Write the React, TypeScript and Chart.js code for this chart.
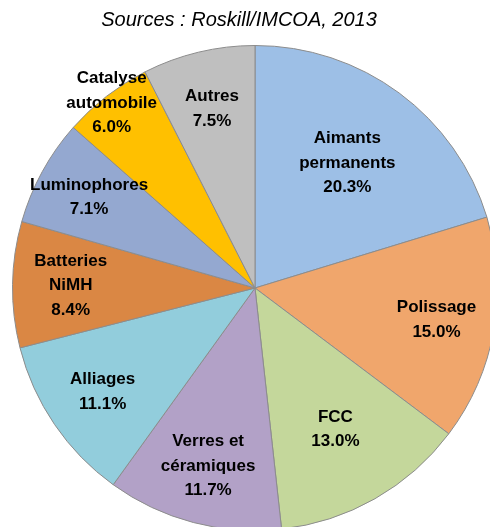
import React, { useEffect, useRef } from "react";
import { Chart, registerables } from "chart.js";

Chart.register(...registerables);

const categories: string[][] = [
  ["Aimants", "permanents"],
  ["Polissage"],
  ["FCC"],
  ["Verres et", "céramiques"],
  ["Alliages"],
  ["Batteries", "NiMH"],
  ["Luminophores"],
  ["Catalyse", "automobile"],
  ["Autres"],
];
const shares: number[] = [20.3, 15.0, 13.0, 11.7, 11.1, 8.4, 7.1, 6.0, 7.5];
const colors: string[] = [
  "#9DBFE6",
  "#F0A66C",
  "#C4D79B",
  "#B2A1C7",
  "#92CDDC",
  "#DA8744",
  "#94A8D0",
  "#FFC000",
  "#BFBFBF",
];
const labelRadius: number[] = [0.64, 0.76, 0.67, 0.76, 0.76, 0.76, 0.78, 0.965, 0.76];
const sourceText = "Sources : Roskill/IMCOA, 2013";

const labelPlugin = {
  id: "sliceLabels",
  afterDatasetsDraw(chart: any) {
    const ctx = chart.ctx;
    const meta = chart.getDatasetMeta(0);
    ctx.save();
    ctx.font = "bold 17px 'Liberation Sans', Arial, sans-serif";
    ctx.fillStyle = "#000";
    ctx.textAlign = "center";
    ctx.textBaseline = "middle";
    const lh = 24.5;
    meta.data.forEach((arc: any, i: number) => {
      const p = arc.getProps(["x", "y", "startAngle", "endAngle", "outerRadius"], true);
      const mid = (p.startAngle + p.endAngle) / 2;
      const r = p.outerRadius * labelRadius[i];
      const cx = p.x + Math.cos(mid) * r;
      const cy = p.y + Math.sin(mid) * r;
      const lines = [...categories[i], shares[i].toFixed(1) + "%"];
      const y0 = cy - ((lines.length - 1) * lh) / 2;
      lines.forEach((t, k) => ctx.fillText(t, cx, y0 + k * lh));
    });
    ctx.restore();
  },
};

export default function App() {
  const ref = useRef<HTMLCanvasElement>(null);
  useEffect(() => {
    document.body.style.margin = "0";
    const chart = new Chart(ref.current!, {
      type: "pie",
      data: {
        labels: categories.map((c) => c.join(" ")),
        datasets: [
          {
            data: shares,
            backgroundColor: colors,
            borderColor: "#8C8C8C",
            borderWidth: 1,
          },
        ],
      },
      options: {
        responsive: false,
        animation: false,
        layout: { padding: 12 },
        plugins: {
          legend: { display: false },
          tooltip: { enabled: false },
        },
      },
      plugins: [labelPlugin],
    });
    return () => chart.destroy();
  }, []);
  return (
    <div style={{ position: "relative", width: 490, height: 527, overflow: "hidden", background: "#fff" }}>
      <canvas ref={ref} width={510} height={576} style={{ position: "absolute", left: 0, top: 0 }} />
      <div
        style={{
          position: "absolute",
          left: 0,
          width: 478,
          top: 8,
          textAlign: "center",
          fontFamily: "'Liberation Sans', Arial, sans-serif",
          fontStyle: "italic",
          fontSize: 20,
          color: "#000",
        }}
      >
        {sourceText}
      </div>
    </div>
  );
}
